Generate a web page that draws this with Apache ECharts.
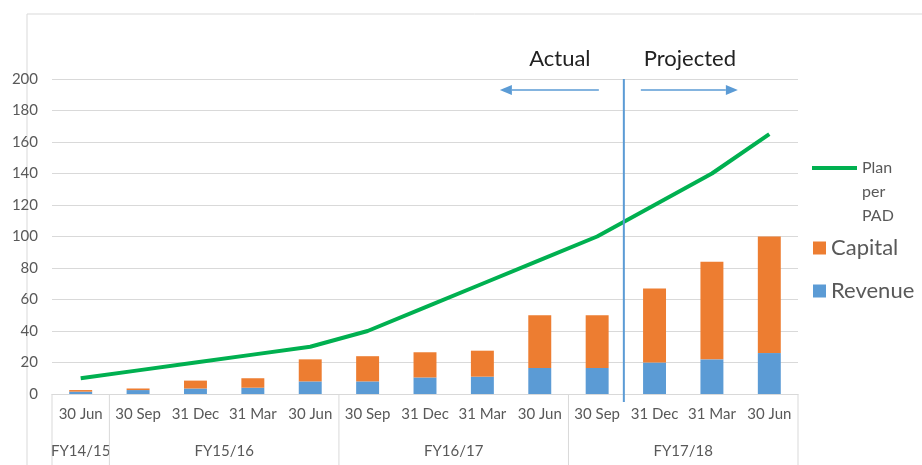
<!DOCTYPE html>
<html>
<head>
<meta charset="utf-8">
<script src="https://cdn.jsdelivr.net/npm/echarts@6/dist/echarts.min.js"></script>
<style>
  html, body { margin: 0; padding: 0; background: #fff; }
  #chart { width: 922px; height: 465px; }
</style>
</head>
<body>
<div id="chart"></div>
<script>
// quarter-end dates
var categories = ['30 Jun', '30 Sep', '31 Dec', '31 Mar', '30 Jun', '30 Sep', '31 Dec',
  '31 Mar', '30 Jun', '30 Sep', '31 Dec', '31 Mar', '30 Jun'];

// financial years (second level of the axis)
var groupNames = ['FY14/15', 'FY15/16', 'FY16/17', 'FY17/18'];
var groupStarts = [0, 1, 5, 9];
var groupSizes = [1, 4, 4, 4];

var revenue = [1.5, 2.5, 3.5, 4, 8, 8, 10.5, 11, 16.5, 16.5, 20, 22, 26];
var capital = [1, 1, 5, 6, 14, 16, 16, 16.5, 33.5, 33.5, 47, 62, 74];
var plan = [10, 15, 20, 25, 30, 40, 55, 70, 85, 100, 120, 140, 165];

// last "actual" quarter index
var lastActual = 9;

var FONT = 'Lato, "Open Sans", sans-serif';
var GREY = '#595959';

var chart = echarts.init(document.getElementById('chart'));

function groupItem(params, api) {
  var start = api.value(0);
  var size = api.value(1);
  var bandW = api.size([1, 0])[0];
  var p = api.coord([start, 0]);
  var x0 = p[0] - bandW / 2;
  var x1 = x0 + size * bandW;
  var y0 = p[1];
  var children = [
    { type: 'line', shape: { x1: x0, y1: y0, x2: x0, y2: y0 + 71 },
      style: { stroke: '#d9d9d9', lineWidth: 1 } },
    { type: 'text', style: { text: groupNames[params.dataIndex], x: (x0 + x1) / 2, y: y0 + 57,
      fill: GREY, fontSize: 15, fontFamily: FONT, align: 'center', verticalAlign: 'middle' } }
  ];
  if (params.dataIndex === groupNames.length - 1) {
    children.push({ type: 'line', shape: { x1: x1, y1: y0, x2: x1, y2: y0 + 71 },
      style: { stroke: '#d9d9d9', lineWidth: 1 } });
  }
  return { type: 'group', children: children };
}

function dividerItem(params, api) {
  var bandW = api.size([1, 0])[0];
  var x = api.coord([api.value(0), 0])[0] + bandW / 2 - 2;
  var yb = api.coord([0, 0])[1];
  var yt = api.coord([0, 200])[1];
  var ay = yt + 11;
  var blue = '#5b9bd5';
  return {
    type: 'group',
    children: [
      { type: 'line', shape: { x1: x, y1: yt, x2: x, y2: yb + 8 },
        style: { stroke: blue, lineWidth: 2 } },
      { type: 'line', shape: { x1: x - 25, y1: ay, x2: x - 112, y2: ay },
        style: { stroke: blue, lineWidth: 1.5 } },
      { type: 'polygon', shape: { points: [[x - 124, ay], [x - 112, ay - 5], [x - 112, ay + 5]] },
        style: { fill: blue } },
      { type: 'line', shape: { x1: x + 17, y1: ay, x2: x + 102, y2: ay },
        style: { stroke: blue, lineWidth: 1.5 } },
      { type: 'polygon', shape: { points: [[x + 114, ay], [x + 102, ay - 5], [x + 102, ay + 5]] },
        style: { fill: blue } },
      { type: 'text', style: { text: 'Actual', x: x - 64, y: yt - 20, fill: '#222', fontSize: 22,
        fontFamily: FONT, align: 'center', verticalAlign: 'middle' } },
      { type: 'text', style: { text: 'Projected', x: x + 66, y: yt - 20, fill: '#222', fontSize: 22,
        fontFamily: FONT, align: 'center', verticalAlign: 'middle' } }
    ]
  };
}

var option = {
  backgroundColor: '#fff',
  animation: false,
  grid: { left: 52, right: 124, top: 79, bottom: 71 },
  graphic: [{
    type: 'polyline',
    shape: { points: [[27, 465], [27, 14], [922, 14]] },
    style: { stroke: '#d9d9d9', lineWidth: 1, fill: null }
  }],
  legend: [{
    data: ['Plan per PAD'],
    orient: 'vertical',
    left: 810,
    top: 108,
    padding: 0,
    itemWidth: 45,
    itemHeight: 4,
    lineStyle: { width: 4 },
    formatter: function () { return '\n\nPlan\nper\nPAD'; },
    textStyle: { fontSize: 16, color: GREY, fontFamily: FONT, lineHeight: 24 }
  }, {
    data: ['Capital', 'Revenue'],
    orient: 'vertical',
    left: 813,
    top: 237,
    padding: 0,
    itemWidth: 13,
    itemHeight: 13,
    itemGap: 21,
    icon: 'rect',
    textStyle: { fontSize: 22, color: GREY, fontFamily: FONT }
  }],
  xAxis: {
    type: 'category',
    data: categories,
    axisLine: { lineStyle: { color: '#d9d9d9' } },
    axisTick: { show: false },
    axisLabel: { color: GREY, fontSize: 15, fontFamily: FONT, margin: 13, interval: 0 }
  },
  yAxis: {
    type: 'value',
    min: 0,
    max: 200,
    interval: 20,
    axisLine: { show: false },
    axisTick: { show: false },
    axisLabel: { color: GREY, fontSize: 15, fontFamily: FONT, margin: 14 },
    splitLine: { lineStyle: { color: '#d9d9d9' } }
  },
  series: [{
    name: 'Revenue',
    type: 'bar',
    stack: 'total',
    barWidth: '40%',
    itemStyle: { color: '#5b9bd5' },
    data: revenue
  }, {
    name: 'Capital',
    type: 'bar',
    stack: 'total',
    barWidth: '40%',
    itemStyle: { color: '#ed7d31' },
    data: capital
  }, {
    name: 'Plan per PAD',
    type: 'line',
    symbol: 'none',
    lineStyle: { color: '#00b050', width: 4 },
    itemStyle: { color: '#00b050' },
    data: plan,
    z: 5
  }, {
    type: 'custom',
    renderItem: groupItem,
    clip: false,
    silent: true,
    data: groupStarts.map(function (s, i) { return [s, groupSizes[i]]; }),
    z: 1
  }, {
    type: 'custom',
    renderItem: dividerItem,
    clip: false,
    silent: true,
    data: [[lastActual]],
    z: 6
  }]
};

chart.setOption(option);
</script>
</body>
</html>
